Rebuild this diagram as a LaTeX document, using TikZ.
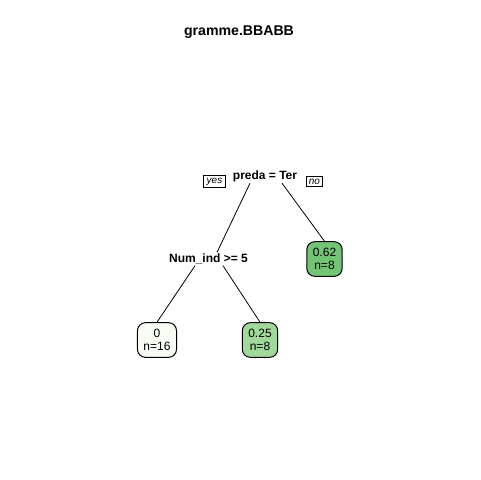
\documentclass[tikz,border=0pt]{standalone}
\usepackage{fontspec}
\setmainfont{Liberation Sans}
\definecolor{leafA}{HTML}{F7FCF5}
\definecolor{leafB}{HTML}{A1D99B}
\definecolor{leafC}{HTML}{74C476}
\begin{document}
\begin{tikzpicture}[x=0.75pt,y=-0.75pt,
  splitlbl/.style={font=\fontsize{9}{10}\selectfont\bfseries, inner sep=1pt},
  yesno/.style={draw=black, line width=0.75pt, font=\fontsize{7.5}{8}\selectfont\itshape, inner xsep=2.2pt, inner ysep=2pt},
  leaf/.style={draw=black, line width=0.75pt, rounded corners=6pt, align=center,
    font=\fontsize{9}{9.5}\selectfont, inner xsep=4.5pt, inner ysep=3pt, minimum height=26pt},
  edge/.style={draw=black, line width=0.6pt}]
\useasboundingbox (0,0) rectangle (480,480);
\fill[white] (0,0) rectangle (480,480);
\node[font=\fontsize{10.6}{12}\selectfont\bfseries] (title) at (239,32) {gramme.BBABB};
\node[splitlbl] (root) at (265,176) {preda = Ter};
\node[yesno] (yes) at (214.5,181.5) {yes};
\node[yesno] (no) at (314.5,181.5) {no};
\node[splitlbl] (num) at (208.5,259) {Num\_ind >= 5};
\node[leaf, fill=leafC] (l3) at (324.5,259) {0.62\\n=8};
\node[leaf, fill=leafA] (l1) at (157,340) {0\\n=16};
\node[leaf, fill=leafB] (l2) at (260,340) {0.25\\n=8};
\draw[edge] ([xshift=-11.25pt]root.south) -- ([xshift=6.4pt]num.north);
\draw[edge] ([xshift=12.75pt]root.south) -- (l3.north);
\draw[edge] ([xshift=-10.1pt]num.south) -- (l1.north);
\draw[edge] ([xshift=10.9pt]num.south) -- (l2.north);
\end{tikzpicture}
\end{document}
